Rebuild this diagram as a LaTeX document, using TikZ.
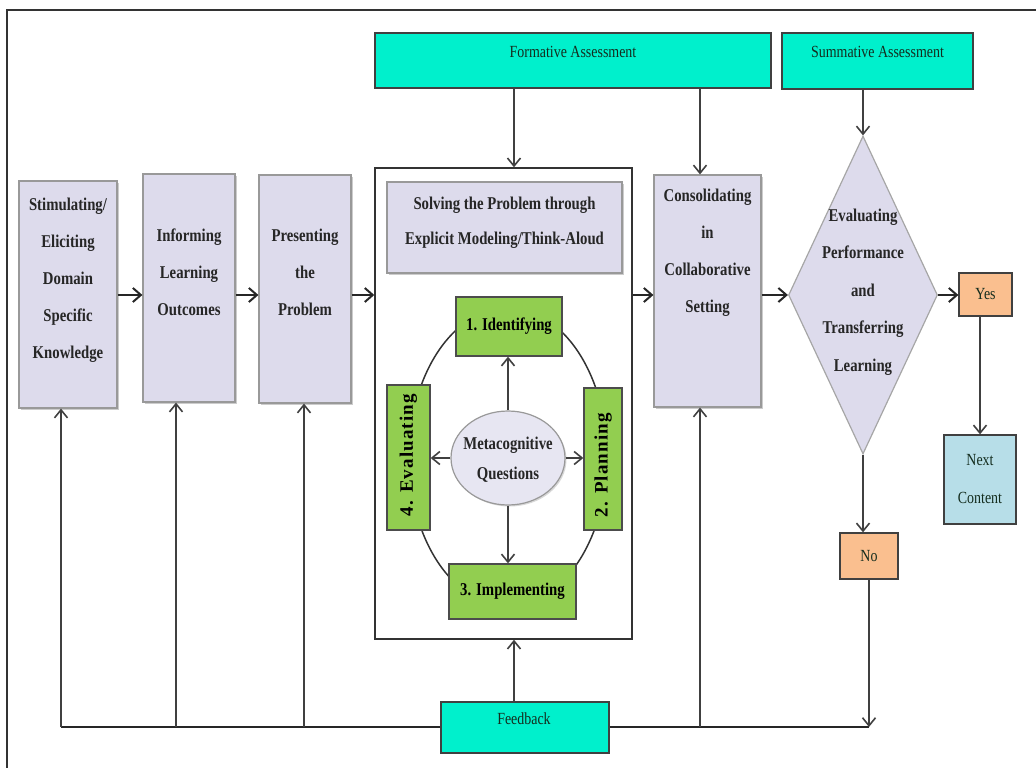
\documentclass[tikz,border=0pt]{standalone}
\usepackage{fontspec}
\setmainfont{Liberation Serif}[FakeStretch=0.82]
\newfontfamily\spreadfont{Liberation Serif}[LetterSpace=6]
\usetikzlibrary{shapes.geometric,shadows,arrows.meta}
\definecolor{lilac}{RGB}{221,219,236}
\definecolor{aqua}{RGB}{0,240,204}
\definecolor{leaf}{RGB}{146,206,80}
\definecolor{peach}{RGB}{250,191,143}
\definecolor{pale}{RGB}{183,222,232}
\definecolor{ink}{RGB}{20,45,30}
\tikzset{
  stage/.style={draw=gray!80, line width=1.2pt, fill=lilac, inner sep=0pt,
    drop shadow={shadow xshift=2pt, shadow yshift=-2pt, fill=black!40}},
  assess/.style={draw=black!75, line width=1.3pt, fill=aqua, inner sep=0pt},
  phase/.style={draw=black!70, line width=1.3pt, fill=leaf, inner sep=0pt},
  answer/.style={draw=black!75, line width=1.3pt, fill=peach, inner sep=0pt},
  boldtxt/.style={align=center, text=black!85, font=\fontsize{18}{37}\selectfont\bfseries},
  plaintxt/.style={align=center, text=ink, font=\fontsize{17}{38}\selectfont},
  arr/.style={-{Straight Barb[length=8pt,width=14pt]}, line width=2pt, black!85},
  thinarr/.style={-{Straight Barb[length=8pt,width=13pt]}, line width=1.6pt, black!75}
}
\begin{document}
\begin{tikzpicture}[x=1pt,y=-1pt]
  \useasboundingbox (0,0) rectangle (1036,768);
  \draw[line width=1.5pt, black!80] (7,768) -- (7,10) -- (1036,10);

  % left stages
  \node[stage, minimum width=98pt, minimum height=227pt] (stim) at (68,294.5) {};
  \node[stage, minimum width=92pt, minimum height=228pt] (inform) at (189,288) {};
  \node[stage, minimum width=92pt, minimum height=228pt] (present) at (305,289) {};
  \node[boldtxt] (stimtext) at (68,280) {Stimulating/\\Eliciting\\Domain\\Specific\\Knowledge};
  \node[boldtxt] (informtext) at (189,272) {Informing\\Learning\\Outcomes};
  \node[boldtxt] (presenttext) at (305,272) {Presenting\\the\\Problem};

  % modeling block
  \node[draw=black!80, line width=1.4pt, minimum width=257pt, minimum height=471pt] (frame) at (503.5,403.5) {};
  \node[stage, minimum width=235pt, minimum height=91pt] (solve) at (504.5,227.5) {};
  \node[boldtxt, font=\fontsize{18}{35}\selectfont\bfseries] (solvetext) at (504.5,223) {Solving the Problem through\\Explicit Modeling/Think-Aloud};

  \draw[line width=1.5pt, black!80] (508,457) ellipse (99 and 149);
  \node[phase, minimum width=106pt, minimum height=59pt, font=\fontsize{18}{20}\selectfont\bfseries] (ident) at (509,326.5) {1. Identifying};
  \node[phase, minimum width=43pt, minimum height=145pt] (evalu) at (408.5,457.5) {};
  \node[phase, minimum width=38pt, minimum height=142pt] (plan) at (603,459) {};
  \node[phase, minimum width=127pt, minimum height=55pt, font=\fontsize{18}{20}\selectfont\bfseries] (impl) at (512.5,591.5) {3. Implementing};
  \node[rotate=90, font=\fontsize{19}{20}\selectfont\spreadfont\bfseries] (evalutext) at (408.5,455) {4. Evaluating};
  \node[rotate=90, font=\fontsize{19}{20}\selectfont\spreadfont\bfseries] (plantext) at (603,465) {2. Planning};
  \node[ellipse, draw=gray!80, line width=1.2pt, fill=lilac!70, minimum width=114pt, minimum height=94pt,
    drop shadow={shadow xshift=1.5pt, shadow yshift=-1.5pt, fill=black!30}] (meta) at (508,458) {};
  \node[boldtxt, font=\fontsize{18}{30}\selectfont\bfseries] (metatext) at (508,460) {Metacognitive\\Questions};
  \draw[thinarr] (meta) -- (meta |- ident.south);
  \draw[thinarr] (meta) -- (meta |- impl.north);
  \draw[thinarr] (meta) -- (meta -| evalu.east);
  \draw[thinarr] (meta) -- (meta -| plan.west);

  % right side
  \node[stage, minimum width=107pt, minimum height=232pt] (consol) at (707.5,291) {};
  \node[boldtxt] (consoltext) at (707.5,253) {Consolidating\\in\\Collaborative\\Setting};
  \node[diamond, draw=gray!70, line width=1.2pt, fill=lilac, inner sep=0pt, minimum width=149pt, minimum height=318pt] (judge) at (863,295) {};
  \node[boldtxt, font=\fontsize{18}{37.5}\selectfont\bfseries] (judgetext) at (863,292) {Evaluating\\Performance\\and\\Transferring\\Learning};
  \node[answer, minimum width=53pt, minimum height=43pt, plaintxt] (yes) at (985.5,294.5) {Yes};
  \node[answer, minimum width=58pt, minimum height=46pt, plaintxt] (no) at (869,556) {No};
  \node[draw=black!75, line width=1.3pt, fill=pale, inner sep=0pt, minimum width=72pt, minimum height=89pt,
    plaintxt] (next) at (980,479.5) {Next\\Content};

  % assessments
  \node[assess, minimum width=396pt, minimum height=55pt] (formative) at (573,60.5) {};
  \node[plaintxt] (formtext) at (573,52) {Formative Assessment};
  \node[assess, minimum width=191pt, minimum height=56pt] (summative) at (877.5,61) {};
  \node[plaintxt] (sumtext) at (877.5,52) {Summative Assessment};
  \node[assess, minimum width=168pt, minimum height=51pt] (feedback) at (525,727.5) {};
  \node[plaintxt] (feedtext) at (524,719) {Feedback};

  \path[coordinate] (0,295) coordinate(row)
              (514,0) coordinate(fx)
              (700,0) coordinate(cx)
              (61,727) coordinate(fb1)
              (176,727) coordinate(fb2)
              (304,727) coordinate(fb3)
              (700,727) coordinate(fb4);

  % main flow
  \draw[arr] (stim.east |- row) -- (inform.west |- row);
  \draw[arr] (inform.east |- row) -- (present.west |- row);
  \draw[arr] (present.east |- row) -- (frame.west |- row);
  \draw[arr] (frame.east |- row) -- (consol.west |- row);
  \draw[arr] (consol.east |- row) -- (judge.west);
  \draw[arr] (judge.east) -- (yes.west |- judge.east);
  \draw[thinarr] (formative.south -| fx) -- (frame.north -| fx);
  \draw[thinarr] (formative.south -| cx) -- (consol.north -| cx);
  \draw[thinarr] (summative.south -| judge.north) -- (judge.north);
  \draw[thinarr] (judge.south) -- (judge.south |- no.north);
  \draw[thinarr] (yes.south -| next) -- (next.north);

  % feedback loop
  \draw[line width=2.2pt, black!85] (feedback.west |- fb1) -- (fb1);
  \draw[line width=2.2pt, black!85] (feedback.east |- fb1) -- (no.south |- fb1);
  \draw[thinarr] (no.south) -- (no.south |- fb1);
  \draw[thinarr] (fb1) -- (fb1 |- stim.south);
  \draw[thinarr] (fb2) -- (fb2 |- inform.south);
  \draw[thinarr] (fb3) -- (fb3 |- present.south);
  \draw[thinarr] (fb4) -- (fb4 |- consol.south);
  \draw[thinarr] (feedback.north -| fx) -- (frame.south -| fx);
\end{tikzpicture}
\end{document}
